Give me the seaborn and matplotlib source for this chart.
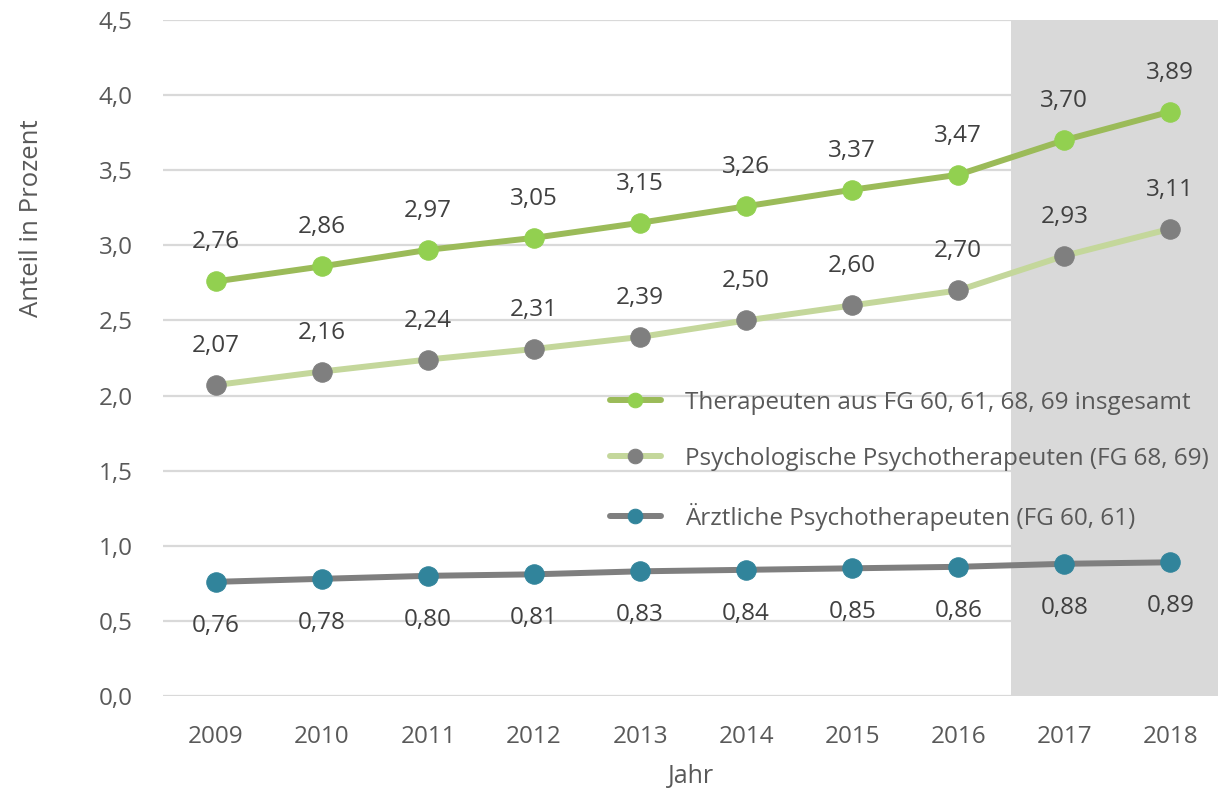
import numpy as np
import pandas as pd
import matplotlib
matplotlib.use("Agg")
import matplotlib.pyplot as plt
import seaborn as sns

years = [2009, 2010, 2011, 2012, 2013, 2014, 2015, 2016, 2017, 2018]
gesamt = [2.76, 2.86, 2.97, 3.05, 3.15, 3.26, 3.37, 3.47, 3.70, 3.89]
psychologisch = [2.07, 2.16, 2.24, 2.31, 2.39, 2.50, 2.60, 2.70, 2.93, 3.11]
aerztlich = [0.76, 0.78, 0.80, 0.81, 0.83, 0.84, 0.85, 0.86, 0.88, 0.89]

labels = ["Therapeuten aus FG 60, 61, 68, 69 insgesamt",
          "Psychologische Psychotherapeuten (FG 68, 69)",
          "Ärztliche Psychotherapeuten (FG 60, 61)"]
yticks = [0.0, 0.5, 1.0, 1.5, 2.0, 2.5, 3.0, 3.5, 4.0, 4.5]

sns.set_style("white")
plt.rcParams['font.family'] = ['Open Sans', 'DejaVu Sans']

fig = plt.figure(figsize=(12.18, 7.92), dpi=100)
ax = fig.add_axes([163/1218, 96/792, 1 - 163/1218, 676/792])

def fmt(v):
    return f"{v:.2f}".replace(".", ",")

# shaded forecast area
ax.axvspan(2016.5, 2019, color="#d9d9d9", zorder=0, lw=0)

for yt in yticks:
    ax.axhline(yt, color="#d9d9d9", lw=1.6, zorder=1)

series = [
    (gesamt, labels[0], "#9bbb59", "#92d050", 39),
    (psychologisch, labels[1], "#c4d79b", "#7f7f7f", 39),
    (aerztlich, labels[2], "#7f7f7f", "#31849b", -44),
]
for vals, lab, lc, mc, off in series:
    sns.lineplot(x=years, y=vals, ax=ax, color=lc, lw=4.3, marker="o",
                 markersize=14, markerfacecolor=mc, markeredgecolor=mc,
                 label=lab, zorder=3)
    for x, v in zip(years, vals):
        ax.annotate(fmt(v), (x, v), xytext=(0, off * 0.72), textcoords="offset points",
                    ha="center", va="center", fontsize=17.5, color="#404040")

ax.set_xlim(2008.5, 2018.45)
ax.set_ylim(0, 4.5)
ax.set_xticks(years)
ax.set_xticklabels([str(y) for y in years])
ax.set_yticks(yticks)
ax.set_yticklabels([f"{t:.1f}".replace(".", ",") for t in yticks])
ax.tick_params(axis="both", length=0, labelsize=17.5, labelcolor="#595959")
ax.tick_params(axis="y", pad=22)
ax.tick_params(axis="x", pad=21)
for s in ax.spines.values():
    s.set_visible(False)

ax.set_xlabel("Jahr", fontsize=18, color="#595959", labelpad=11)
ax.set_ylabel("")
fig.text(32/1218, 1 - 218/792, "Anteil in Prozent", rotation=90, ha="center", va="center",
         fontsize=18.5, color="#595959")

ax.legend(loc="upper left", bbox_to_anchor=(600/1218, 1 - 381/792),
          bbox_transform=fig.transFigure, frameon=False, fontsize=17.5,
          labelcolor="#595959", labelspacing=1.32, handlelength=2.1,
          handletextpad=1.0, borderaxespad=0, markerscale=0.75)

fig.savefig("out.png", dpi=100)
